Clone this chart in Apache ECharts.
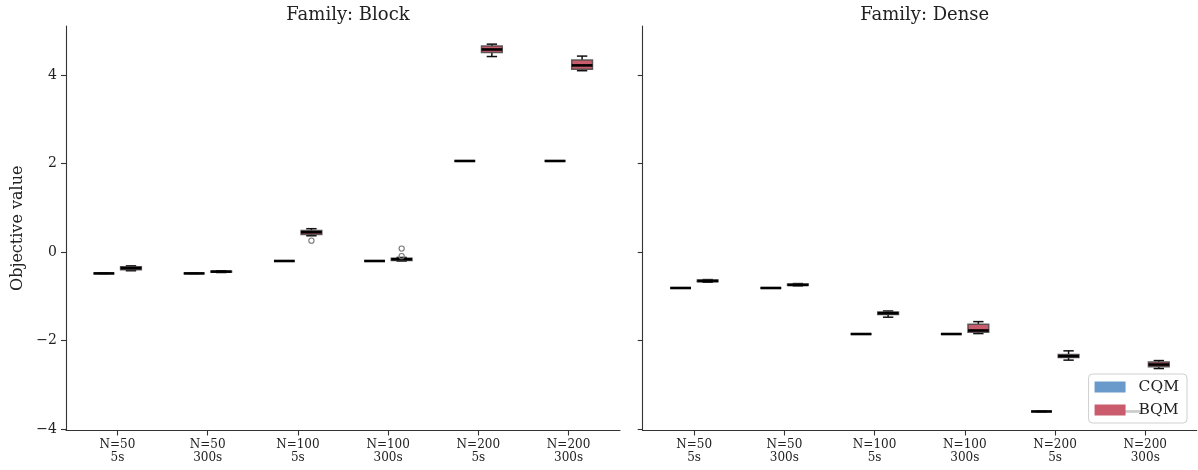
<!DOCTYPE html>
<html>
<head>
<meta charset="utf-8">
<script src="https://cdn.jsdelivr.net/npm/echarts@6/dist/echarts.min.js"></script>
<style>html,body{margin:0;padding:0;background:#fff}#c{width:1198px;height:470px}</style>
</head>
<body>
<div id="c"></div>
<script>
// ---- data ----
const categories = ['N=50\n5s', 'N=50\n300s', 'N=100\n5s', 'N=100\n300s', 'N=200\n5s', 'N=200\n300s'];
const panelTitles = ['Family: Block', 'Family: Dense'];
const yTicks = [-4, -2, 0, 2, 4];

// each row: [categoryIndex, min, Q1, median, Q3, max]
const blockCQM = [
  [0, -0.48, -0.48, -0.48, -0.48, -0.48],
  [1, -0.48, -0.48, -0.48, -0.48, -0.48],
  [2, -0.20, -0.20, -0.20, -0.20, -0.20],
  [3, -0.20, -0.20, -0.20, -0.20, -0.20],
  [4, 2.06, 2.06, 2.06, 2.06, 2.06],
  [5, 2.06, 2.06, 2.06, 2.06, 2.06]
];
const blockBQM = [
  [0, -0.42, -0.40, -0.36, -0.33, -0.31],
  [1, -0.46, -0.45, -0.44, -0.43, -0.42],
  [2, 0.37, 0.40, 0.45, 0.49, 0.53],
  [3, -0.20, -0.19, -0.16, -0.14, -0.12],
  [4, 4.42, 4.51, 4.58, 4.66, 4.70],
  [5, 4.10, 4.13, 4.22, 4.34, 4.43]
];
const blockOutliers = [[2, 0.26], [3, 0.08], [3, -0.09]];

const denseCQM = [
  [0, -0.81, -0.81, -0.81, -0.81, -0.81],
  [1, -0.81, -0.81, -0.81, -0.81, -0.81],
  [2, -1.85, -1.85, -1.85, -1.85, -1.85],
  [3, -1.85, -1.85, -1.85, -1.85, -1.85],
  [4, -3.60, -3.60, -3.60, -3.60, -3.60],
  [5, -3.60, -3.60, -3.60, -3.60, -3.60]
];
const denseBQM = [
  [0, -0.68, -0.67, -0.65, -0.63, -0.62],
  [1, -0.76, -0.75, -0.74, -0.72, -0.71],
  [2, -1.47, -1.41, -1.38, -1.35, -1.33],
  [3, -1.84, -1.81, -1.77, -1.63, -1.57],
  [4, -2.44, -2.38, -2.35, -2.31, -2.23],
  [5, -2.63, -2.59, -2.54, -2.48, -2.45]
];
const denseOutliers = [];

// ---- style ----
const FONT = 'DejaVu Serif';
const CQM_COLOR = '#6a99cb';
const BQM_COLOR = '#c95b6c';
const BOX_W = 0.23;      // in category units
const OFFSET = 0.15;     // in category units
const AXIS_COLOR = '#333';

function boxRender(offset, fill) {
  return function (params, api) {
    const i = api.value(0);
    const unit = api.size([1, 0])[0];
    const cx = api.coord([i, 0])[0] + offset * unit;
    const hw = BOX_W * unit / 2;
    const cw = hw / 2;
    const y = k => api.coord([i, api.value(k)])[1];
    const yMin = y(1), yQ1 = y(2), yMed = y(3), yQ3 = y(4), yMax = y(5);
    const line = (x1, y1, x2, y2, w, c) => ({
      type: 'line', shape: { x1, y1, x2, y2 },
      style: { stroke: c, lineWidth: w }
    });
    return {
      type: 'group',
      children: [
        line(cx, yQ3, cx, yMax, 1.5, '#111'),
        line(cx, yQ1, cx, yMin, 1.5, '#111'),
        line(cx - cw, yMax, cx + cw, yMax, 1.5, '#111'),
        line(cx - cw, yMin, cx + cw, yMin, 1.5, '#111'),
        {
          type: 'rect',
          shape: { x: cx - hw, y: yQ3, width: 2 * hw, height: Math.max(0, yQ1 - yQ3) },
          style: { fill: fill, stroke: 'rgba(70,70,70,0.85)', lineWidth: 1.5 }
        },
        line(cx - hw, yMed, cx + hw, yMed, 2.6, '#000')
      ]
    };
  };
}

function outlierRender(offset) {
  return function (params, api) {
    const i = api.value(0);
    const unit = api.size([1, 0])[0];
    const p = api.coord([i, api.value(1)]);
    return {
      type: 'circle',
      shape: { cx: p[0] + offset * unit, cy: p[1], r: 2.6 },
      style: { fill: 'none', stroke: '#777', lineWidth: 1.1 }
    };
  };
}

const gridW = 554;
const grids = [
  { left: 66, top: 26, width: gridW, height: 404.5 },
  { left: 642.7, top: 26, width: gridW, height: 404.5 }
];

const tickIdx = categories.map((c, i) => i);

const xAxes = grids.map((g, gi) => ({
  type: 'value', gridIndex: gi, min: -0.57, max: 5.57,
  splitLine: { show: false },
  axisLine: { show: true, onZero: false, lineStyle: { color: AXIS_COLOR, width: 1.1 } },
  axisTick: { show: true, customValues: tickIdx, length: 5, lineStyle: { color: AXIS_COLOR, width: 1.1 } },
  axisLabel: {
    show: true, customValues: tickIdx, margin: 8,
    formatter: v => categories[Math.round(v)],
    fontFamily: FONT, fontSize: 12, color: '#222', lineHeight: 13
  }
}));

const minusFmt = v => String(v).replace('-', '\u2212');
const yAxes = grids.map((g, gi) => ({
  type: 'value', gridIndex: gi, min: -4.03, max: 5.11,
  splitLine: { show: false },
  axisLine: { show: true, onZero: false, lineStyle: { color: AXIS_COLOR, width: 1.1 } },
  axisTick: { show: true, customValues: yTicks, length: 5, lineStyle: { color: AXIS_COLOR, width: 1.1 } },
  axisLabel: {
    show: gi === 0, customValues: yTicks, margin: 9,
    formatter: minusFmt, fontFamily: FONT, fontSize: 14, color: '#222'
  },
  name: gi === 0 ? 'Objective value' : '',
  nameLocation: 'middle', nameGap: 40,
  nameTextStyle: { fontFamily: FONT, fontSize: 16, color: '#222' }
}));

const panels = [
  { cqm: blockCQM, bqm: blockBQM, out: blockOutliers },
  { cqm: denseCQM, bqm: denseBQM, out: denseOutliers }
];

const series = [];
panels.forEach((p, gi) => {
  series.push({
    type: 'custom', name: 'CQM', xAxisIndex: gi, yAxisIndex: gi,
    itemStyle: { color: CQM_COLOR },
    renderItem: boxRender(-OFFSET, CQM_COLOR),
    encode: { x: 0, y: [1, 2, 3, 4, 5] },
    data: p.cqm, z: 2
  });
  series.push({
    type: 'custom', name: 'BQM', xAxisIndex: gi, yAxisIndex: gi,
    itemStyle: { color: BQM_COLOR },
    renderItem: boxRender(OFFSET, BQM_COLOR),
    encode: { x: 0, y: [1, 2, 3, 4, 5] },
    data: p.bqm, z: 2
  });
  series.push({
    type: 'custom', name: 'outliers', xAxisIndex: gi, yAxisIndex: gi,
    renderItem: outlierRender(OFFSET),
    encode: { x: 0, y: 1 },
    data: p.out, z: 2
  });
});

const option = {
  animation: false,
  backgroundColor: '#fff',
  textStyle: { fontFamily: FONT },
  title: panelTitles.map((t, i) => ({
    text: t, left: grids[i].left + gridW / 2, top: 1, textAlign: 'center',
    textStyle: { fontFamily: FONT, fontSize: 18, fontWeight: 'normal', color: '#222' }
  })),
  legend: {
    data: ['CQM', 'BQM'],
    orient: 'vertical', right: 11, bottom: 47,
    backgroundColor: 'rgba(255,255,255,0.8)',
    borderColor: '#d0d0d0', borderWidth: 1, borderRadius: 4,
    padding: [5, 8, 5, 6],
    itemWidth: 31, itemHeight: 11, itemGap: 7, icon: 'rect',
    textStyle: { fontFamily: FONT, fontSize: 15.5, color: '#222', padding: [0, 0, 0, 8] }
  },
  grid: grids,
  xAxis: xAxes,
  yAxis: yAxes,
  series: series
};

const chart = echarts.init(document.getElementById('c'), null, { renderer: 'canvas' });
chart.setOption(option);
</script>
</body>
</html>
